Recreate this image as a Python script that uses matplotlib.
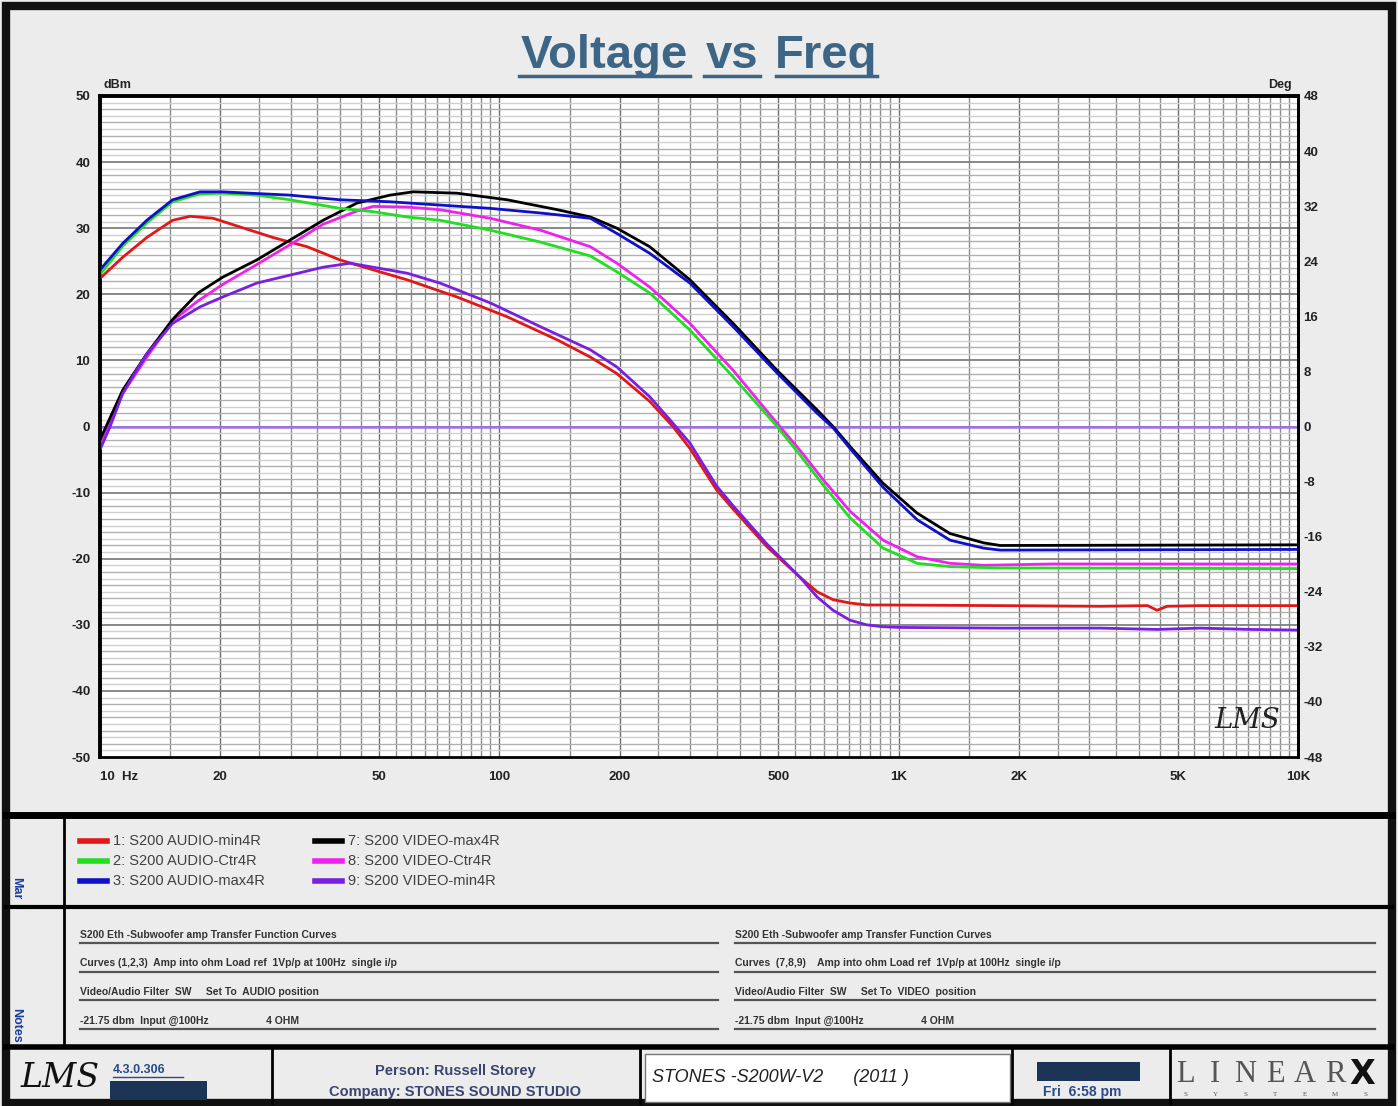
import matplotlib
matplotlib.use('Agg')
import matplotlib.pyplot as plt
from matplotlib.patches import Rectangle
from matplotlib.lines import Line2D

plt.rcParams['font.family'] = ['Liberation Sans', 'DejaVu Sans']
plt.rcParams['axes.unicode_minus'] = False

W, H = 1398, 1106

# ---- curve data (freq Hz, level dBm) ----
red_f = [10, 11.4, 13.1, 15.2, 16.8, 19.2, 22.4, 27.1, 33.0, 39.9, 48.3, 58.7, 78.3, 104.6,
         139.7, 169, 197, 238, 272, 300, 350, 385, 468, 566, 625, 685, 755, 831, 914, 1796,
         3195, 4200, 4436, 4700, 5686, 10000]
red_db = [22.4, 25.6, 28.6, 31.2, 31.8, 31.5, 30.2, 28.6, 27.2, 25.2, 23.7, 22.2, 19.6, 16.6,
          13.1, 10.5, 8.0, 3.8, 0.0, -3.3, -9.6, -12.5, -18.2, -22.8, -25.0, -26.2, -26.7, -27.0, -27.0, -27.1,
          -27.2, -27.1, -27.8, -27.2, -27.1, -27.1]

green_f = [10, 11.4, 13.1, 15.2, 17.8, 20.3, 24.7, 29.9, 39.9, 48.3, 58.7, 71.0, 94.9, 126.7,
           169, 197, 238, 300, 385, 496, 566, 650, 755, 914, 1112, 1345, 1796, 10000]
green_db = [23.0, 27.3, 30.8, 34.0, 35.2, 35.3, 35.0, 34.3, 33.0, 32.5, 31.7, 31.2, 29.7, 27.9,
            25.8, 23.4, 20.2, 14.6, 7.5, 0.0, -4.3, -9.0, -13.8, -18.4, -20.7, -21.2, -21.4, -21.5]

blue_f = [10, 11.4, 13.1, 15.2, 17.8, 20.3, 29.9, 39.9, 53.2, 71.0, 94.9, 126.7, 169, 197,
          238, 300, 385, 496, 625, 685, 755, 914, 1112, 1345, 1632, 1796, 10000]
blue_db = [23.7, 27.7, 31.2, 34.3, 35.5, 35.5, 35.0, 34.3, 34.0, 33.5, 33.0, 32.3, 31.5, 29.2,
           26.2, 21.7, 15.1, 8.1, 2.0, -0.2, -3.3, -9.2, -14.1, -17.2, -18.4, -18.7, -18.6]

black_f = [10, 11.4, 13.1, 15.2, 17.6, 20.3, 24.7, 29.9, 36.2, 44.0, 53.2, 60.8, 78.3, 104.6,
           139.7, 169, 197, 238, 300, 385, 496, 625, 685, 755, 914, 1112, 1345, 1632, 1796, 10000]
black_db = [-2.0, 5.5, 11.0, 16.2, 20.2, 22.6, 25.2, 28.2, 31.2, 33.8, 35.0, 35.5, 35.3, 34.3,
            32.8, 31.7, 30.0, 27.2, 22.2, 15.6, 8.5, 2.5, 0.0, -3.0, -8.6, -13.1, -16.2, -17.6, -18.0, -17.9]

magenta_f = [10, 11.4, 13.1, 15.2, 17.6, 20.3, 24.7, 29.9, 36.2, 44.0, 48.3, 58.7, 71.0, 94.9,
             126.7, 169, 197, 238, 300, 385, 496, 566, 650, 755, 914, 1112, 1345, 1632, 2414, 10000]
magenta_db = [-2.5, 5.0, 10.5, 16.0, 19.0, 21.5, 24.5, 27.5, 30.6, 32.6, 33.3, 33.2, 32.8, 31.5,
              29.7, 27.2, 24.7, 21.1, 15.6, 8.5, 0.5, -3.6, -8.2, -12.8, -17.2, -19.7, -20.7, -21.0, -20.8, -20.8]

purple_f = [10, 10.6, 11.4, 12.2, 13.1, 15.2, 17.8, 20.3, 24.7, 29.9, 36.2, 42.3, 48.3, 58.7,
            71.0, 94.9, 126.7, 169, 197, 238, 272, 300, 350, 385, 468, 566, 625, 685, 755, 831,
            914, 1010, 1796, 3195, 4436, 5686, 7586, 10000]
purple_db = [-3.5, 0.0, 5.0, 8.0, 11.0, 15.6, 18.1, 19.6, 21.7, 22.9, 24.1, 24.7, 24.1, 23.2,
             21.7, 18.7, 15.1, 11.6, 9.0, 4.5, 0.5, -2.5, -9.0, -12.0, -17.8, -22.8, -25.8, -27.8, -29.3, -30.0,
             -30.3, -30.4, -30.5, -30.5, -30.7, -30.5, -30.7, -30.8]

series = [
    ('1: S200 AUDIO-min4R', red_f, red_db, '#e01818'),
    ('2: S200 AUDIO-Ctr4R', green_f, green_db, '#22dd22'),
    ('3: S200 AUDIO-max4R', blue_f, blue_db, '#1010c8'),
    ('7: S200 VIDEO-max4R', black_f, black_db, '#000000'),
    ('8: S200 VIDEO-Ctr4R', magenta_f, magenta_db, '#ee22ee'),
    ('9: S200 VIDEO-min4R', purple_f, purple_db, '#7a1ee0'),
]
draw_order = [0, 4, 3, 1, 2, 5]

x_ticks = [10, 20, 50, 100, 200, 500, 1000, 2000, 5000, 10000]
x_labels = ['10  Hz', '20', '50', '100', '200', '500', '1K', '2K', '5K', '10K']
y_ticks = list(range(-50, 51, 10))
deg_ticks = list(range(-48, 49, 8))

notes_left = ['S200 Eth -Subwoofer amp Transfer Function Curves',
              'Curves (1,2,3)  Amp into ohm Load ref  1Vp/p at 100Hz  single i/p',
              'Video/Audio Filter  SW     Set To  AUDIO position',
              '-21.75 dbm  Input @100Hz                    4 OHM']
notes_right = ['S200 Eth -Subwoofer amp Transfer Function Curves',
               'Curves  (7,8,9)    Amp into ohm Load ref  1Vp/p at 100Hz  single i/p',
               'Video/Audio Filter  SW     Set To  VIDEO  position',
               '-21.75 dbm  Input @100Hz                    4 OHM']


def fx(x):
    return x / W


def fy(y):
    return 1 - y / H


def hline(fig, x0, x1, y, lw=1.0, color='black'):
    fig.add_artist(Line2D([fx(x0), fx(x1)], [fy(y), fy(y)], lw=lw, color=color))


def vline(fig, x, y0, y1, lw=1.0, color='black'):
    fig.add_artist(Line2D([fx(x), fx(x)], [fy(y0), fy(y1)], lw=lw, color=color))


fig = plt.figure(figsize=(W / 100, H / 100), dpi=100)
fig.patch.set_facecolor('#ececec')

# ---- main plot ----
ax = fig.add_axes([fx(100), fy(757), fx(1298) - fx(100), fy(96) - fy(757)])
ax.set_facecolor('white')
ax.set_xscale('log')
ax.set_xlim(10, 10000)
ax.set_ylim(-50, 50)

# grid
for dec in [10, 100, 1000]:
    for k in range(3, 21):
        f = dec * k / 2
        if f >= 10000:
            continue
        col = '#6e6e6e' if k % 2 == 0 and k // 2 in (1, 2, 5, 10) else '#8c8c8c'
        ax.axvline(f, color=col, lw=1.0, zorder=1)
for v in range(-49, 50):
    if v % 10 == 0:
        ax.axhline(v, color='#808080', lw=1.3, zorder=1)
    elif v % 2 == 0:
        ax.axhline(v, color='#b0b0b0', lw=1.0, zorder=1)
    else:
        ax.axhline(v, color='#d0d0d0', lw=1.0, zorder=1)
ax.axhline(0, color='#a070f0', lw=1.8, zorder=2)

for i in draw_order:
    name, f, db, c = series[i]
    ax.plot(f, db, color=c, lw=2.0, zorder=3, solid_joinstyle='round')

ax.set_xticks(x_ticks)
ax.set_xticklabels(x_labels)
ax.minorticks_off()
ax.set_yticks(y_ticks)
ax.tick_params(axis='y', length=0, labelsize=9.5, pad=7, colors='#222222')
ax.tick_params(axis='x', length=0, labelsize=9.5, pad=10, colors='#222222')
for lab in ax.get_xticklabels() + ax.get_yticklabels():
    lab.set_fontweight('bold')
ax.get_xticklabels()[0].set_ha('left')
for s in ['top', 'left']:
    ax.spines[s].set_linewidth(2.8)
for s in ['bottom', 'right']:
    ax.spines[s].set_linewidth(2.0)

ax2 = ax.twinx()
ax2.set_ylim(-48, 48)
ax2.set_yticks(deg_ticks)
ax2.tick_params(length=0, labelsize=9.5, pad=4, colors='#222222')
for lab in ax2.get_yticklabels():
    lab.set_fontweight('bold')
ax2.spines['right'].set_linewidth(2.0)

fig.text(fx(104), fy(85), 'dBm', fontsize=9, fontweight='bold', color='#222222', va='center')
fig.text(fx(1268), fy(85), 'Deg', fontsize=9, fontweight='bold', color='#222222', va='center')
ax.text(0.985, 0.035, 'LMS', transform=ax.transAxes, ha='right', va='bottom',
        fontsize=20, fontstyle='italic', fontfamily='DejaVu Serif', color='#222222', zorder=5)

# ---- title ----
title_words = [('Voltage', 604, 519, 690), ('vs', 732, 704, 760), ('Freq', 826, 776, 877)]
for word, xc, x0, x1 in title_words:
    fig.text(fx(xc), fy(56), word, fontsize=34, fontweight='bold', color='#3d6585',
             ha='center', va='center')
    hline(fig, x0, x1, 76, lw=2.5, color='#3d6585')

# ---- frames ----
fig.add_artist(Rectangle((fx(6), fy(1103)), fx(1392) - fx(6), fy(6) - fy(1103),
                         fill=False, lw=6, edgecolor='#111111'))
hline(fig, 6, 1392, 815, lw=5)
hline(fig, 6, 1392, 907, lw=3)
hline(fig, 6, 1392, 1047, lw=4)
vline(fig, 64, 815, 1047, lw=2)
fig.text(fx(16), fy(888), 'Mar', rotation=-90, fontsize=9, fontweight='bold',
         color='#1a3d9a', ha='center', va='center')
fig.text(fx(16), fy(1025), 'Notes', rotation=-90, fontsize=9, fontweight='bold',
         color='#1a3d9a', ha='center', va='center')

# ---- legend ----
for i, (name, f, db, c) in enumerate(series):
    col = i // 3
    row = i % 3
    x0 = 80 + col * 235
    y = 841 + row * 20
    hline(fig, x0, x0 + 27, y, lw=4, color=c)
    fig.text(fx(x0 + 33), fy(y), name, fontsize=10.5, color='#404040', va='center')

# ---- notes ----
for j in range(4):
    y = 938 + j * 28.5
    fig.text(fx(80), fy(y), notes_left[j], fontsize=7.5, fontweight='bold', color='#333333',
             va='baseline')
    hline(fig, 80, 718, y + 5, lw=1.6, color='#555555')
    fig.text(fx(735), fy(y), notes_right[j], fontsize=7.5, fontweight='bold', color='#333333',
             va='baseline')
    hline(fig, 735, 1375, y + 5, lw=1.6, color='#555555')

# ---- footer ----
for x in [272, 640, 1012, 1170]:
    vline(fig, x, 1047, 1103, lw=2)
fig.add_artist(Rectangle((fx(645), fy(1102)), fx(1010) - fx(645), fy(1054) - fy(1102),
                         facecolor='white', edgecolor='#777777', lw=1))
fig.text(fx(60), fy(1078), 'LMS', fontsize=24, fontstyle='italic', fontfamily='DejaVu Serif',
         color='#111111', ha='center', va='center')
fig.text(fx(113), fy(1070), '4.3.0.306', fontsize=9, fontweight='bold', color='#2a4a8a',
         va='center')
hline(fig, 113, 183, 1077, lw=1, color='#2a4a8a')
fig.add_artist(Rectangle((fx(110), fy(1100)), fx(207) - fx(110), fy(1081) - fy(1100),
                         facecolor='#1c3557', edgecolor='none'))
fig.text(fx(455), fy(1071), 'Person: Russell Storey', fontsize=10.5, fontweight='bold',
         color='#3a4570', ha='center', va='center')
fig.text(fx(455), fy(1092), 'Company: STONES SOUND STUDIO', fontsize=10.5, fontweight='bold',
         color='#3a4570', ha='center', va='center')
fig.text(fx(652), fy(1077), 'STONES -S200W-V2      (2011 )', fontsize=13, fontstyle='italic',
         color='#222222', va='center')
fig.add_artist(Rectangle((fx(1037), fy(1081)), fx(1140) - fx(1037), fy(1062) - fy(1081),
                         facecolor='#1c3557', edgecolor='none'))
fig.text(fx(1043), fy(1092), 'Fri  6:58 pm', fontsize=10, fontweight='bold', color='#2a4a8a',
         va='center')
for k, ch in enumerate('LINEAR'):
    fig.text(fx(1185 + k * 30), fy(1074), ch, fontsize=22, fontfamily='Liberation Serif',
             color='#555555', ha='center', va='center')
fig.text(fx(1362), fy(1074), 'X', fontsize=24, fontweight='bold', fontfamily='DejaVu Sans',
         color='#111111', ha='center', va='center')
for k, ch in enumerate('SYSTEMS'):
    fig.text(fx(1185 + k * 30), fy(1095), ch, fontsize=5, fontfamily='Liberation Serif',
             color='#555555', ha='center', va='center')

fig.savefig('out.png', dpi=100, facecolor=fig.get_facecolor())
